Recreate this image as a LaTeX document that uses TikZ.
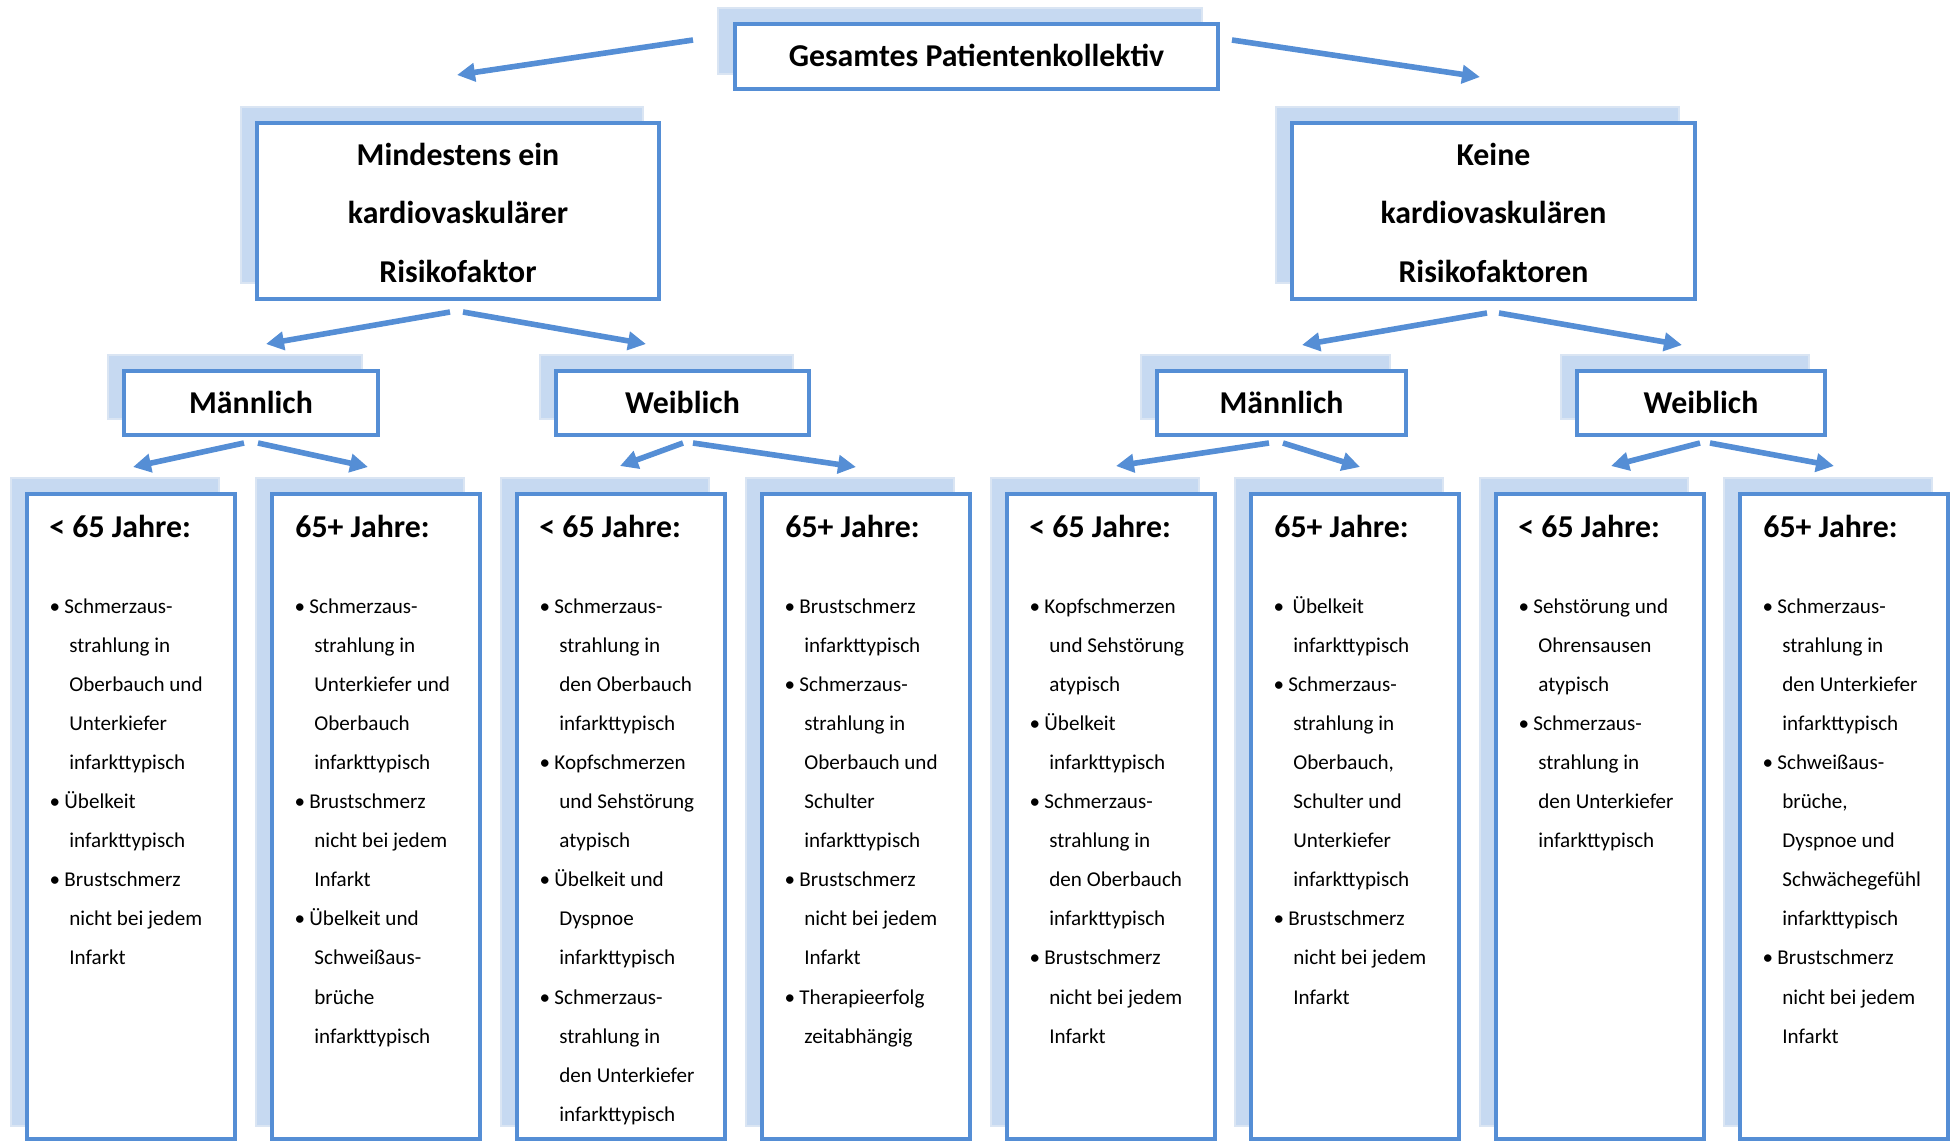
\documentclass[tikz,border=0pt]{standalone}
\usepackage{fontspec}
\setmainfont{Carlito}
\usetikzlibrary{arrows.meta,fit}
\definecolor{mblue}{RGB}{85,142,213}
\definecolor{shfill}{RGB}{198,217,241}
\definecolor{shline}{RGB}{218,229,243}
\newcommand\hfont{\fontsize{15.9}{29.25}\selectfont\bfseries}
\newcommand\bfont{\fontsize{10.55}{19.55}\selectfont}
\newcommand\bi[1]{\leavevmode\rlap{\hspace*{1.75pt}\makebox[0pt]{•}}\hspace*{6.5pt}#1}
\newcommand\bix[1]{\leavevmode\rlap{\hspace*{1.75pt}\makebox[0pt]{•}}\hspace*{8.6pt}#1}
\newcommand\ct[1]{\leavevmode\hspace*{9pt}#1}
\begin{document}
\begin{tikzpicture}[x=0.5pt,y=-0.5pt,
  shadowbox/.style={fill=shfill,draw=shline,line width=0.8pt,inner sep=0pt},
  mainbox/.style={fill=white,draw=mblue,line width=2pt,inner sep=0pt},
  arr/.style={draw=mblue,line width=2.8pt,-{Triangle[length=9pt,width=9pt]}},
  ttl/.style={font=\hfont,inner sep=0pt,anchor=base},
  lhead/.style={font=\hfont,inner sep=0pt,anchor=base west},
  lst/.style={font=\bfont,inner sep=0pt,anchor=base west}]
\useasboundingbox (0,0) rectangle (1951,1141);

% top
\node[shadowbox,fit={(718,8)(1202,74)}] (Ts) {};
\node[mainbox,fit={(735,24)(1218,89)}] (T) {};
\node[ttl] (Tt) at (976.5,66) {Gesamtes Patientenkollektiv};

% level 2
\node[shadowbox,fit={(241,107)(643,283)}] (As) {};
\node[mainbox,fit={(257,123)(659,299)}] (A) {};
\node[ttl] (At) at (458,165) {\parbox[t]{200pt}{\centering Mindestens ein\\kardiovaskulärer\\Risikofaktor}};
\node[shadowbox,fit={(1276,107)(1679,283)}] (Bs) {};
\node[mainbox,fit={(1292,123)(1695,299)}] (B) {};
\node[ttl] (Bt) at (1493.5,165) {\parbox[t]{200pt}{\centering Keine\\kardiovaskulären\\Risikofaktoren}};

% level 3
\node[shadowbox,fit={(108,355)(362,419)}] (AMs) {};
\node[mainbox,fit={(124,371)(378,435)}] (AM) {};
\node[ttl] (AMt) at (251,413) {Männlich};
\node[shadowbox,fit={(540,355)(793,419)}] (AWs) {};
\node[mainbox,fit={(556,371)(809,435)}] (AW) {};
\node[ttl] (AWt) at (682.5,413) {Weiblich};
\node[shadowbox,fit={(1141,355)(1390,419)}] (BMs) {};
\node[mainbox,fit={(1157,371)(1406,435)}] (BM) {};
\node[ttl] (BMt) at (1281.5,413) {Männlich};
\node[shadowbox,fit={(1561,355)(1809,419)}] (BWs) {};
\node[mainbox,fit={(1577,371)(1825,435)}] (BW) {};
\node[ttl] (BWt) at (1701,413) {Weiblich};

% leaves
\foreach \i/\xl in {1/27,2/272,3/517,4/762,5/1007,6/1251,7/1496,8/1740}{
  \node[shadowbox,fit={(\xl-16,478)(\xl+192,1126)}] (L\i s) {};
  \node[mainbox,fit={(\xl,494)(\xl+208,1139)}] (L\i) {};
}
\foreach \i/\xl in {1/27,3/517,5/1007,7/1496}{
  \node[lhead] (L\i h) at (\xl+22,537) {< 65 Jahre:};
}
\foreach \i/\xl in {2/272,4/762,6/1251,8/1740}{
  \node[lhead] (L\i h) at (\xl+23,537) {65+ Jahre:};
}

\node[lst] (L1t) at (51,613) {\parbox[t]{120pt}{\bi{Schmerzaus-}\\\ct{strahlung in}\\\ct{Oberbauch und}\\\ct{Unterkiefer}\\\ct{infarkttypisch}\\\bi{Übelkeit}\\\ct{infarkttypisch}\\\bi{Brustschmerz}\\\ct{nicht bei jedem}\\\ct{Infarkt}}};

\node[lst] (L2t) at (296,613) {\parbox[t]{120pt}{\bi{Schmerzaus-}\\\ct{strahlung in}\\\ct{Unterkiefer und}\\\ct{Oberbauch}\\\ct{infarkttypisch}\\\bi{Brustschmerz}\\\ct{nicht bei jedem}\\\ct{Infarkt}\\\bi{Übelkeit und}\\\ct{Schweißaus-}\\\ct{brüche}\\\ct{infarkttypisch}}};

\node[lst] (L3t) at (541,613) {\parbox[t]{120pt}{\bi{Schmerzaus-}\\\ct{strahlung in}\\\ct{den Oberbauch}\\\ct{infarkttypisch}\\\bi{Kopfschmerzen}\\\ct{und Sehstörung}\\\ct{atypisch}\\\bi{Übelkeit und}\\\ct{Dyspnoe}\\\ct{infarkttypisch}\\\bi{Schmerzaus-}\\\ct{strahlung in}\\\ct{den Unterkiefer}\\\ct{infarkttypisch}}};

\node[lst] (L4t) at (786,613) {\parbox[t]{120pt}{\bi{Brustschmerz}\\\ct{infarkttypisch}\\\bi{Schmerzaus-}\\\ct{strahlung in}\\\ct{Oberbauch und}\\\ct{Schulter}\\\ct{infarkttypisch}\\\bi{Brustschmerz}\\\ct{nicht bei jedem}\\\ct{Infarkt}\\\bi{Therapieerfolg}\\\ct{zeitabhängig}}};

\node[lst] (L5t) at (1031,613) {\parbox[t]{120pt}{\bi{Kopfschmerzen}\\\ct{und Sehstörung}\\\ct{atypisch}\\\bi{Übelkeit}\\\ct{infarkttypisch}\\\bi{Schmerzaus-}\\\ct{strahlung in}\\\ct{den Oberbauch}\\\ct{infarkttypisch}\\\bi{Brustschmerz}\\\ct{nicht bei jedem}\\\ct{Infarkt}}};

\node[lst] (L6t) at (1275,613) {\parbox[t]{120pt}{\bix{Übelkeit}\\\ct{infarkttypisch}\\\bi{Schmerzaus-}\\\ct{strahlung in}\\\ct{Oberbauch,}\\\ct{Schulter und}\\\ct{Unterkiefer}\\\ct{infarkttypisch}\\\bi{Brustschmerz}\\\ct{nicht bei jedem}\\\ct{Infarkt}}};

\node[lst] (L7t) at (1520,613) {\parbox[t]{120pt}{\bi{Sehstörung und}\\\ct{Ohrensausen}\\\ct{atypisch}\\\bi{Schmerzaus-}\\\ct{strahlung in}\\\ct{den Unterkiefer}\\\ct{infarkttypisch}}};

\node[lst] (L8t) at (1764,613) {\parbox[t]{120pt}{\bi{Schmerzaus-}\\\ct{strahlung in}\\\ct{den Unterkiefer}\\\ct{infarkttypisch}\\\bi{Schweißaus-}\\\ct{brüche,}\\\ct{Dyspnoe und}\\\ct{Schwächegefühl}\\\ct{infarkttypisch}\\\bi{Brustschmerz}\\\ct{nicht bei jedem}\\\ct{Infarkt}}};

% arrow end points
\coordinate (a1s) at (693,40);   \coordinate (a1e) at (457,75);
\coordinate (a2s) at (1232,40);  \coordinate (a2e) at (1480,77);
\coordinate (b1s) at (450,312);  \coordinate (b1e) at (266,344);
\coordinate (b2s) at (463,312);  \coordinate (b2e) at (646,344);
\coordinate (b3s) at (1487,313); \coordinate (b3e) at (1302,345);
\coordinate (b4s) at (1499,313); \coordinate (b4e) at (1682,345);
\coordinate (c1s) at (244,443);  \coordinate (c1e) at (133,467);
\coordinate (c2s) at (258,443);  \coordinate (c2e) at (368,467);
\coordinate (c3s) at (683,443);  \coordinate (c3e) at (620,466);
\coordinate (c4s) at (693,443);  \coordinate (c4e) at (856,467);
\coordinate (c5s) at (1269,443); \coordinate (c5e) at (1116,466);
\coordinate (c6s) at (1283,443); \coordinate (c6e) at (1360,467);
\coordinate (c7s) at (1700,443); \coordinate (c7e) at (1611,466);
\coordinate (c8s) at (1710,443); \coordinate (c8e) at (1834,466);

\foreach \p in {a1,a2,b1,b2,b3,b4,c1,c2,c3,c4,c5,c6,c7,c8}{
  \draw[arr] (\p s) -- (\p e);
}
\end{tikzpicture}
\end{document}
